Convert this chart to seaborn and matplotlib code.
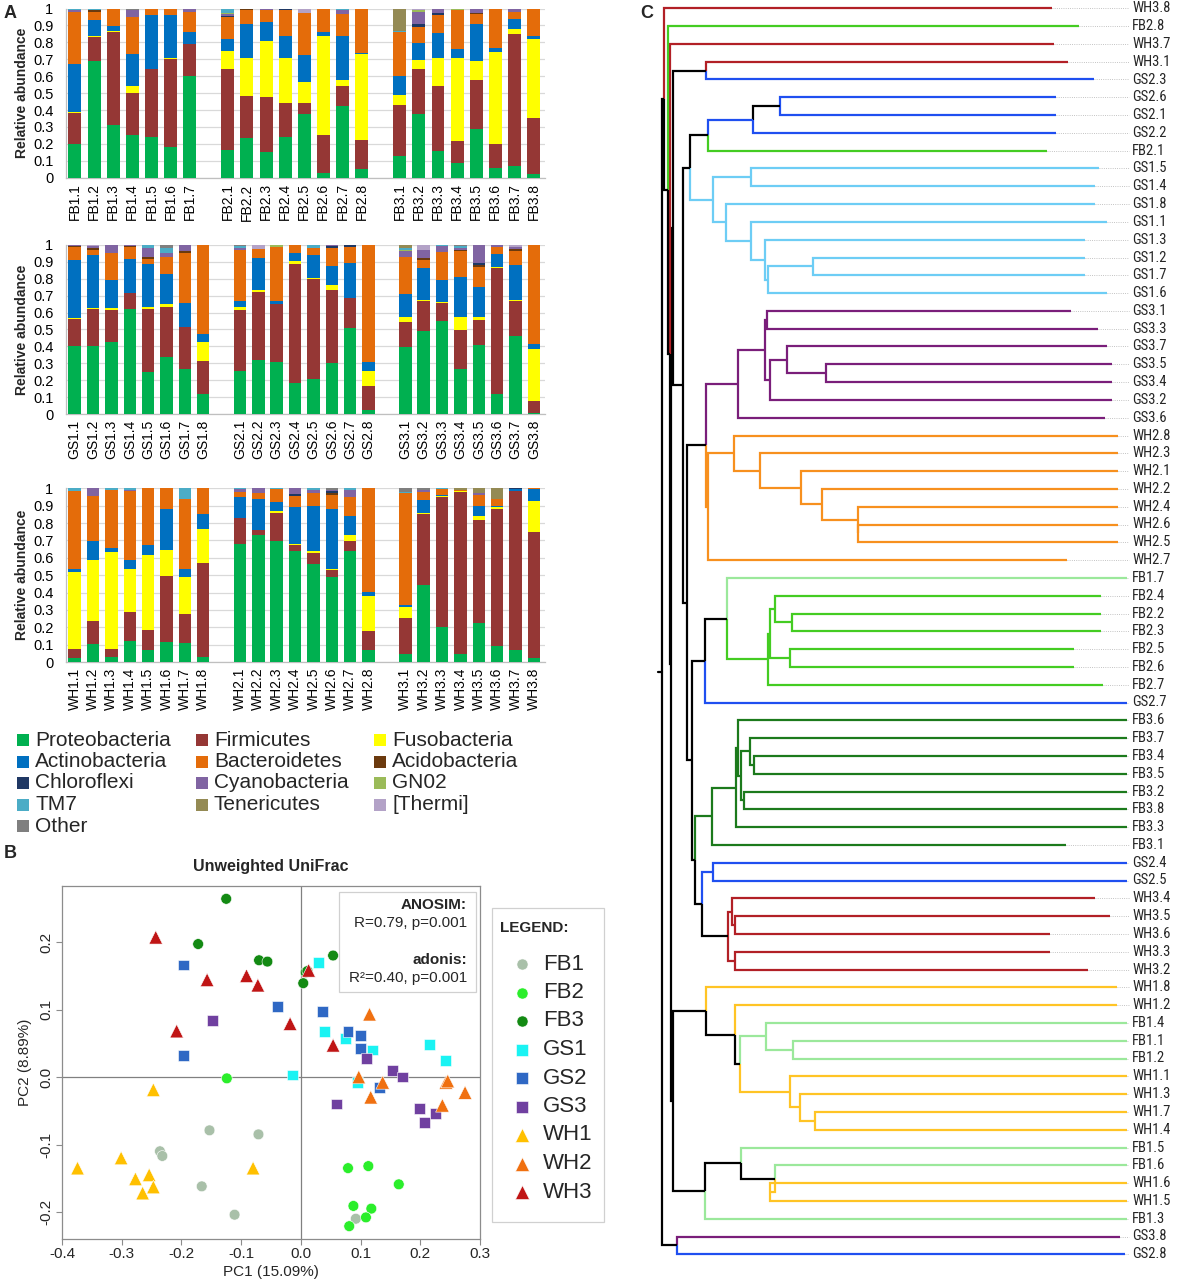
import numpy as np
import pandas as pd
import matplotlib
matplotlib.use("Agg")
import matplotlib.pyplot as plt
import seaborn as sns
from matplotlib.patches import Rectangle
from matplotlib.lines import Line2D
from matplotlib import font_manager

sns.set_theme(style="white")
plt.rcParams['font.family'] = ['Liberation Sans', 'DejaVu Sans']
plt.rcParams['axes.unicode_minus'] = False

# ---------------- Panel A data ----------------
PHYLA = ['Proteobacteria', 'Firmicutes', 'Fusobacteria', 'Actinobacteria', 'Bacteroidetes',
         'Acidobacteria', 'Chloroflexi', 'Cyanobacteria', 'GN02', 'TM7', 'Tenericutes',
         '[Thermi]', 'Other']
PHYLA_COLORS = ['#00B050', '#953735', '#FFFF00', '#0070C0', '#E46C0A', '#6B3A0E', '#1F3864',
                '#8064A2', '#9BBB59', '#4BACC6', '#948A54', '#B3A2C7', '#7F7F7F']

FB1 = [[.20, .18, .01, .28, .31, 0, 0, .01, 0, .01, 0, 0, 0],
       [.69, .14, .01, .09, .05, .01, 0, 0, 0, .01, 0, 0, 0],
       [.31, .55, .005, .03, .105, 0, 0, 0, 0, 0, 0, 0, 0],
       [.25, .25, .04, .19, .22, 0, 0, .04, 0, 0, 0, 0, .01],
       [.24, .40, .005, .315, .04, 0, 0, 0, 0, 0, 0, 0, 0],
       [.18, .52, .01, .25, .04, 0, 0, 0, 0, 0, 0, 0, 0],
       [.60, .19, 0, .07, .12, 0, 0, .02, 0, 0, 0, 0, 0]]
FB2 = [[.165, .475, .11, .07, .13, 0, .005, .01, .01, .02, .005, 0, 0],
       [.236, .248, .226, .20, .08, .01, 0, 0, 0, 0, 0, 0, 0],
       [.154, .324, .332, .11, .07, 0, 0, .01, 0, 0, 0, 0, 0],
       [.24, .20, .265, .135, .15, 0, .01, 0, 0, 0, 0, 0, 0],
       [.378, .062, .123, .163, .25, 0, 0, 0, 0, 0, 0, .024, 0],
       [.03, .224, .586, .024, .132, .004, 0, 0, 0, 0, 0, 0, 0],
       [.425, .118, .034, .26, .13, 0, 0, .023, 0, .01, 0, 0, 0],
       [.05, .17, .51, .005, .265, 0, 0, 0, 0, 0, 0, 0, 0]]
FB3 = [[.13, .297, .063, .114, .258, 0, 0, 0, 0, .005, .133, 0, 0],
       [.378, .266, .049, .102, .095, 0, .02, .07, .01, 0, 0, .01, 0],
       [.157, .383, .165, .153, .105, 0, .01, .027, 0, 0, 0, 0, 0],
       [.089, .129, .492, .048, .232, 0, 0, 0, .005, .005, 0, 0, 0],
       [.29, .287, .113, .22, .056, .01, 0, .024, 0, 0, 0, 0, 0],
       [.06, .137, .543, .024, .236, 0, 0, 0, 0, 0, 0, 0, 0],
       [.07, .78, .03, .055, .045, 0, 0, .02, 0, 0, 0, 0, 0],
       [.02, .33, .47, .02, .16, 0, 0, 0, 0, 0, 0, 0, 0]]
GS1 = [[.405, .155, .005, .345, .074, .01, 0, .006, 0, 0, 0, 0, 0],
       [.40, .22, .005, .315, .03, .01, 0, .015, 0, 0, 0, .005, 0],
       [.428, .187, .013, .162, .16, 0, 0, .05, 0, 0, 0, 0, 0],
       [.623, .09, 0, .204, .067, .011, 0, .005, 0, 0, 0, 0, 0],
       [.25, .37, .012, .256, .029, .01, 0, .055, 0, .018, 0, 0, 0],
       [.336, .294, .02, .18, .10, 0, 0, .02, 0, .03, 0, 0, .02],
       [.267, .246, 0, .141, .296, .01, 0, .04, 0, 0, 0, 0, 0],
       [.12, .195, .113, .045, .527, 0, 0, 0, 0, 0, 0, 0, 0]]
GS2 = [[.255, .36, .02, .035, .298, 0, 0, .012, 0, .01, 0, 0, .01],
       [.322, .398, .015, .188, .051, 0, 0, 0, 0, 0, 0, .026, 0],
       [.306, .342, .003, .019, .314, 0, 0, 0, .016, 0, 0, 0, 0],
       [.183, .705, .016, .046, .046, 0, 0, .004, 0, 0, 0, 0, 0],
       [.21, .587, .008, .135, .04, 0, 0, 0, 0, .02, 0, 0, 0],
       [.304, .426, .034, .11, .106, 0, .01, .01, 0, 0, 0, 0, 0],
       [.51, .176, 0, .206, .096, 0, .012, 0, 0, 0, 0, 0, 0],
       [.025, .14, .092, .049, .694, 0, 0, 0, 0, 0, 0, 0, 0]]
GS3 = [[.397, .147, .028, .138, .22, 0, 0, .03, .01, .01, .02, 0, 0],
       [.49, .178, .005, .187, .05, .01, 0, .05, 0, 0, 0, .03, 0],
       [.552, .102, .01, .126, .167, 0, 0, .033, 0, .01, 0, 0, 0],
       [.267, .23, .079, .234, .15, .01, 0, .01, 0, .01, 0, 0, .01],
       [.41, .146, .016, .18, .118, .01, .01, .11, 0, 0, 0, 0, 0],
       [.12, .743, .003, .079, .039, 0, 0, .016, 0, 0, 0, 0, 0],
       [.464, .204, .005, .205, .087, .01, 0, .01, 0, 0, 0, .015, 0],
       [.008, .072, .303, .034, .583, 0, 0, 0, 0, 0, 0, 0, 0]]
WH1 = [[.025, .052, .443, .017, .45, 0, 0, 0, 0, .013, 0, 0, 0],
       [.105, .133, .352, .107, .259, 0, 0, .044, 0, 0, 0, 0, 0],
       [.027, .05, .558, .02, .335, 0, 0, 0, 0, .01, 0, 0, 0],
       [.12, .166, .248, .053, .40, 0, 0, .005, 0, .008, 0, 0, 0],
       [.07, .116, .428, .058, .328, 0, 0, 0, 0, 0, 0, 0, 0],
       [.115, .38, .15, .238, .117, 0, 0, 0, 0, 0, 0, 0, 0],
       [.109, .167, .211, .05, .40, 0, 0, 0, 0, .063, 0, 0, 0],
       [.029, .539, .198, .088, .146, 0, 0, 0, 0, 0, 0, 0, 0]]
WH2 = [[.68, .15, 0, .118, .032, 0, 0, .015, 0, .005, 0, 0, 0],
       [.731, .029, 0, .177, .034, 0, 0, .029, 0, 0, 0, 0, 0],
       [.699, .161, .01, .05, .074, 0, 0, 0, 0, .006, 0, 0, 0],
       [.639, .033, .005, .217, .062, 0, .01, .034, 0, 0, 0, 0, 0],
       [.564, .064, .01, .262, .071, 0, 0, .02, 0, .009, 0, 0, 0],
       [.488, .042, .005, .345, .083, .01, .01, .01, 0, 0, 0, 0, .007],
       [.637, .058, .036, .112, .105, 0, 0, .045, 0, .007, 0, 0, 0],
       [.069, .111, .202, .023, .595, 0, 0, 0, 0, 0, 0, 0, 0]]
WH3 = [[.046, .209, .064, .009, .643, 0, 0, 0, 0, .01, 0, 0, .019],
       [.443, .411, .005, .074, .044, 0, 0, .015, 0, 0, 0, 0, .008],
       [.20, .752, .005, .005, .033, 0, 0, 0, 0, .005, 0, 0, 0],
       [.048, .929, .008, 0, .005, 0, 0, 0, 0, 0, .01, 0, 0],
       [.223, .597, .02, .058, .065, 0, 0, .01, 0, 0, .027, 0, 0],
       [.094, .787, .01, .005, .044, 0, 0, 0, 0, 0, .06, 0, 0],
       [.067, .92, 0, .008, 0, 0, .005, 0, 0, 0, 0, 0, 0],
       [.021, .728, .178, .067, .006, 0, 0, 0, 0, 0, 0, 0, 0]]

# ---------------- Panel B data ----------------
PCOA_GROUPS = ['FB1', 'FB2', 'FB3', 'GS1', 'GS2', 'GS3', 'WH1', 'WH2', 'WH3']
PCOA_COLORS = ['#A9C0A9', '#2BEE2B', '#138A13', '#1AF3F3', '#2F68C4', '#7040A0',
               '#FFC000', '#F07010', '#C01515']
PCOA_MARKERS = ['o', 'o', 'o', 's', 's', 's', '^', '^', '^']
FB1_PTS = [(-0.236, -0.110), (-0.232, -0.117), (-0.153, -0.079), (-0.071, -0.085),
           (-0.166, -0.162), (-0.111, -0.204), (0.092, -0.210)]
FB2_PTS = [(-0.124, -0.002), (0.079, -0.135), (0.113, -0.132), (0.164, -0.159),
           (0.088, -0.191), (0.118, -0.195), (0.109, -0.208), (0.081, -0.221)]
FB3_PTS = [(-0.125, 0.264), (-0.172, 0.197), (-0.070, 0.173), (-0.056, 0.171),
           (0.008, 0.155), (0.004, 0.139), (0.054, 0.180), (0.011, 0.157)]
GS1_PTS = [(-0.014, 0.003), (0.030, 0.170), (0.039, 0.067), (0.075, 0.057),
           (0.120, 0.040), (0.216, 0.048), (0.242, 0.024), (0.095, -0.008)]
GS2_PTS = [(-0.197, 0.166), (-0.039, 0.105), (-0.197, 0.032), (0.037, 0.097),
           (0.079, 0.067), (0.100, 0.061), (0.100, 0.042), (0.131, -0.015)]
GS3_PTS = [(-0.148, 0.084), (0.110, 0.028), (0.153, 0.010), (0.170, 0.000),
           (0.060, -0.040), (0.198, -0.046), (0.226, -0.054), (0.207, -0.068)]
WH1_PTS = [(-0.247, -0.019), (-0.374, -0.135), (-0.301, -0.120), (-0.277, -0.151),
           (-0.254, -0.145), (-0.247, -0.163), (-0.265, -0.172), (-0.080, -0.135)]
WH2_PTS = [(0.115, 0.093), (0.097, 0.000), (0.137, -0.008), (0.117, -0.030),
           (0.237, -0.042), (0.243, -0.008), (0.246, -0.006), (0.275, -0.023)]
WH3_PTS = [(-0.243, 0.207), (-0.157, 0.144), (-0.091, 0.150), (-0.072, 0.136),
           (-0.208, 0.068), (-0.018, 0.079), (0.013, 0.158), (0.054, 0.047)]

# ---------------- Panel C data ----------------
TREE_COLORS = {'FB1': '#9BE89B', 'FB2': '#44CC22', 'FB3': '#1C7A1C', 'GS1': '#6DCDF5',
               'GS2': '#1F4FF0', 'GS3': '#7A1E7A', 'WH1': '#FFC425', 'WH2': '#F7901E',
               'WH3': '#B22026', 'k': '#000000'}
TIP = {'WH3.8': 390, 'FB2.8': 417, 'WH3.7': 392, 'WH3.1': 406, 'GS2.3': 432, 'GS2.6': 394,
       'GS2.1': 394, 'GS2.2': 394, 'FB2.1': 385, 'GS1.5': 437, 'GS1.4': 433, 'GS1.8': 433,
       'GS1.1': 445, 'GS1.3': 423, 'GS1.2': 423, 'GS1.7': 423, 'GS1.6': 445, 'GS3.1': 409,
       'GS3.3': 436, 'GS3.7': 445, 'GS3.5': 450, 'GS3.4': 450, 'GS3.2': 450, 'GS3.6': 443,
       'WH2.8': 456, 'WH2.3': 456, 'WH2.1': 456, 'WH2.2': 456, 'WH2.4': 456, 'WH2.6': 456,
       'WH2.5': 456, 'WH2.7': 405, 'FB1.7': 466, 'FB2.4': 439, 'FB2.2': 439, 'FB2.3': 439,
       'FB2.5': 412, 'FB2.6': 412, 'FB2.7': 441, 'GS2.7': 466, 'FB3.6': 465, 'FB3.7': 466,
       'FB3.4': 466, 'FB3.5': 466, 'FB3.2': 465, 'FB3.8': 465, 'FB3.3': 466, 'FB3.1': 404,
       'GS2.4': 466, 'GS2.5': 466, 'WH3.4': 433, 'WH3.5': 448, 'WH3.6': 388, 'WH3.3': 388,
       'WH3.2': 426, 'WH1.8': 455, 'WH1.2': 455, 'FB1.4': 466, 'FB1.1': 466, 'FB1.2': 466,
       'WH1.1': 466, 'WH1.3': 466, 'WH1.7': 466, 'WH1.4': 466, 'FB1.5': 466, 'FB1.6': 466,
       'WH1.6': 466, 'WH1.5': 466, 'FB1.3': 466, 'GS3.8': 458, 'GS2.8': 463}
# internal node = [distance, edge colour, children...]
GS2_TOP = [91, 'GS2', [118, 'k', 'GS2.6', 'GS2.1'], 'GS2.2']
GS1_CLADE = [51, 'GS1', [89, 'GS1', 'GS1.5', 'GS1.4'],
             [64, 'GS1', 'GS1.8', [89, 'GS1', 'GS1.1', [103, 'GS1', 'GS1.3',
                                     [106, 'GS1', [151, 'GS1', 'GS1.2', 'GS1.7'], 'GS1.6']]]]]
GS3_CLADE = [76, 'GS3', [103, 'GS3', [105, 'GS3', 'GS3.1', 'GS3.3'],
                         [108, 'GS3', [125, 'GS3', 'GS3.7', [164, 'GS3', 'GS3.5', 'GS3.4']], 'GS3.2']],
             'GS3.6']
WH2_CLADE = [46, 'WH2', [72, 'WH2', 'WH2.8', [98, 'WH2', 'WH2.3', [139, 'WH2', 'WH2.1',
             [160, 'WH2', 'WH2.2', [196, 'WH2', 'WH2.4', [196, 'WH2', 'WH2.6', 'WH2.5']]]]]], 'WH2.7']
FB_BLOCK = [65, 'k', 'FB1.7', [106, 'FB2', [108, 'FB2', [113, 'FB2', 'FB2.4', [130, 'FB2', 'FB2.2', 'FB2.3']],
                                            [128, 'FB2', 'FB2.5', 'FB2.6']], 'FB2.7']]
FB3_CLADE = [50, 'FB3', [74, 'FB3', [76, 'FB3', 'FB3.6', [79, 'FB3', [88, 'FB3', 'FB3.7',
                                                               [92, 'FB3', 'FB3.4', 'FB3.5']],
                                                     [82, 'FB3', 'FB3.2', 'FB3.8']]], 'FB3.3'], 'FB3.1']
WH3_CLADE = [66, 'k', [70, 'WH3', 'WH3.4', [73, 'WH3', 'WH3.5', 'WH3.6']], [73, 'WH3', 'WH3.3', 'WH3.2']]
WH1_UP = [44, 'k', 'WH1.8', [73, 'k', 'WH1.2', [78, 'k', [104, 'FB1', 'FB1.4', [131, 'FB1', 'FB1.1', 'FB1.2']],
                                               [128, 'WH1', 'WH1.1', [138, 'WH1', 'WH1.3',
                                                                     [153, 'WH1', 'WH1.7', 'WH1.4']]]]]]
WH1_LO = [43, 'k', [79, 'k', 'FB1.5', [113, 'k', 'FB1.6', [108, 'WH1', 'WH1.6', 'WH1.5']]], 'FB1.3']
MID = [21, 'k', [28, 'k', [46, 'k', GS2_TOP, 'FB2.1'], GS1_CLADE],
       [25, 'k', [44, 'k', GS3_CLADE, WH2_CLADE],
        [30, 'k', [43, 'k', FB_BLOCK, 'GS2.7'],
         [33, 'k', FB3_CLADE, [40, 'k', [51, 'GS2', 'GS2.4', 'GS2.5'], WH3_CLADE]]]]]
TREE = [0, 'k',
        [2, 'k', 'WH3.8',
         [6, 'k', 'FB2.8',
          [8, 'k', 'WH3.7',
           [9, 'k', [11, 'k', [44, 'k', 'WH3.1', 'GS2.3'], MID],
            [11, 'k', WH1_UP, WH1_LO]]]]],
        [15, 'k', 'GS3.8', 'GS2.8']]

# ---------------- figure ----------------
W, H = 1196, 1283
fig = plt.figure(figsize=(W / 100, H / 100), dpi=100)


def px_axes(l, t, r, b):
    return fig.add_axes([l / W, 1 - b / H, (r - l) / W, (b - t) / H])


def bar_panel(t, b, groups, names):
    ax = px_axes(66, t, 545, b)
    pos, labels, rows = [], [], []
    p = 0
    for gname, data in zip(names, groups):
        for i, row in enumerate(data):
            pos.append(p)
            labels.append(f"{gname}.{i + 1}")
            rows.append(row)
            p += 1
        p += 1
    vals = np.array(rows, dtype=float)
    cum = np.zeros(len(pos))
    for k in range(len(PHYLA)):
        ax.bar(pos, vals[:, k], bottom=cum, width=0.68, color=PHYLA_COLORS[k],
               linewidth=0, zorder=3)
        cum += vals[:, k]
    ax.set_xlim(-0.47, pos[-1] + 0.6)
    ax.set_ylim(0, 1)
    ax.set_xticks(pos)
    ax.set_xticklabels(labels, rotation=90, fontsize=10)
    ticks = np.round(np.arange(0, 1.01, 0.1), 1)
    ax.set_yticks(ticks)
    ax.set_yticklabels(['0' if v == 0 else ('1' if v == 1 else f"{v:.1f}") for v in ticks],
                       fontsize=10.5)
    ax.yaxis.grid(True, color='#D9D9D9', lw=0.9, zorder=0)
    ax.set_axisbelow(True)
    for s in ['top', 'right']:
        ax.spines[s].set_visible(False)
    for s in ['left', 'bottom']:
        ax.spines[s].set_color('#BFBFBF')
        ax.spines[s].set_linewidth(0.9)
    ax.tick_params(axis='both', length=0, colors='#000000')
    ax.tick_params(axis='y', pad=9)
    ax.tick_params(axis='x', pad=4)
    ax.set_ylabel('Relative abundance', fontsize=10, fontweight='bold', labelpad=3)
    return ax


bar_panel(8.5, 177.7, [FB1, FB2, FB3], ['FB1', 'FB2', 'FB3'])
bar_panel(244.7, 414.3, [GS1, GS2, GS3], ['GS1', 'GS2', 'GS3'])
bar_panel(488.3, 662, [WH1, WH2, WH3], ['WH1', 'WH2', 'WH3'])

fig.text(4 / W, 1 - 14 / H, 'A', fontsize=13, fontweight='bold', va='center')
fig.text(4 / W, 1 - 853 / H, 'B', fontsize=13, fontweight='bold', va='center')
fig.text(640 / W, 1 - 13 / H, 'C', fontsize=13, fontweight='bold', va='center')

# phylum legend (row-wise, 3 columns)
col_x = [17, 196, 374]
for i, (name, col) in enumerate(zip(PHYLA, PHYLA_COLORS)):
    r, c = divmod(i, 3)
    y = 740 + r * 21.5
    fig.add_artist(Rectangle((col_x[c] / W, 1 - (y + 6) / H), 12 / W, 12 / H,
                             transform=fig.transFigure, color=col, lw=0))
    fig.text((col_x[c] + 18) / W, 1 - y / H, name, fontsize=15, va='center')

# ---------------- Panel B ----------------
axB = px_axes(62, 886, 480, 1239)
pts = {'FB1': FB1_PTS, 'FB2': FB2_PTS, 'FB3': FB3_PTS, 'GS1': GS1_PTS, 'GS2': GS2_PTS,
       'GS3': GS3_PTS, 'WH1': WH1_PTS, 'WH2': WH2_PTS, 'WH3': WH3_PTS}
recs = []
for g in PCOA_GROUPS:
    for x, y in pts[g]:
        recs.append((g, x, y))
df = pd.DataFrame(recs, columns=['group', 'PC1', 'PC2'])
pal = dict(zip(PCOA_GROUPS, PCOA_COLORS))
mk = dict(zip(PCOA_GROUPS, PCOA_MARKERS))
axB.axhline(0, color='#808080', lw=0.9, zorder=0)
axB.axvline(0, color='#808080', lw=0.9, zorder=0)
for marker, size in [('o', 60), ('s', 62), ('^', 95)]:
    gs = [g for g in PCOA_GROUPS if mk[g] == marker]
    sub = df[df.group.isin(gs)]
    sns.scatterplot(data=sub, x='PC1', y='PC2', hue='group', palette=pal, marker=marker,
                    s=size, edgecolor='white', linewidth=0.4, legend=False, ax=axB, zorder=3)
axB.set_xlim(-0.4, 0.3)
axB.set_ylim(-0.24, 0.283)
axB.set_xticks([-0.4, -0.3, -0.2, -0.1, 0.0, 0.1, 0.2, 0.3])
axB.set_xticklabels(['-0.4', '-0.3', '-0.2', '-0.1', '0.0', '0.1', '0.2', '0.3'], fontsize=11)
axB.set_yticks([-0.2, -0.1, 0.0, 0.1, 0.2])
axB.set_yticklabels(['-0.2', '-0.1', '0.0', '0.1', '0.2'], fontsize=11, rotation=90, va='center')
axB.set_xlabel('')
axB.set_ylabel('')
for s in axB.spines.values():
    s.set_color('#8C8C8C')
    s.set_linewidth(0.9)
axB.tick_params(axis='both', length=4, width=0.8, color='#8C8C8C', direction='out',
                bottom=True, left=True, pad=2)
fig.text(271 / W, 1 - 867 / H, 'Unweighted UniFrac', fontsize=11.5, fontweight='bold',
         ha='center', va='center')
fig.text(271 / W, 1 - 1272 / H, 'PC1 (15.09%)', fontsize=11, ha='center', va='center')
fig.text(25 / W, 1 - 1062 / H, 'PC2 (8.89%)', fontsize=11, ha='center', va='center', rotation=90)

# stats box
axB.add_patch(Rectangle((0.663, 0.700), 0.327, 0.283, transform=axB.transAxes,
                        facecolor='white', edgecolor='#D0D0D0', lw=0.9, zorder=4))
for txt, yy, bold in [('ANOSIM:', 905, True), ('R=0.79, p=0.001', 923, False),
                      ('adonis:', 960, True), ('R²=0.40, p=0.001', 978, False)]:
    axB.text(0.969, 1 - (yy - 886) / 353, txt, transform=axB.transAxes, ha='right',
             va='center', fontsize=11, fontweight='bold' if bold else 'normal', zorder=5)

# group legend
fig.add_artist(Rectangle((492 / W, 1 - 1222 / H), 112 / W, 314 / H, transform=fig.transFigure,
                         facecolor='white', edgecolor='#D0D0D0', lw=0.9))
fig.text(500 / W, 1 - 928 / H, 'LEGEND:', fontsize=11, fontweight='bold', va='center')
msize = {'o': 8, 's': 8, '^': 10}
for i, g in enumerate(PCOA_GROUPS):
    y = 964 + i * 28.5
    fig.add_artist(Line2D([522 / W], [1 - y / H], transform=fig.transFigure, marker=mk[g],
                          markersize=msize[mk[g]], color=pal[g], markeredgecolor='white',
                          markeredgewidth=0.4, linestyle='none'))
    fig.text(543 / W, 1 - y / H, g, fontsize=16, va='center')

# ---------------- Panel C ----------------
axC = px_axes(640, 0, 1196, 1283)
axC.set_axis_off()
axC.set_xlim(-22, 534)
axC.set_ylim((1283 - 8.3) / 17.8, -8.3 / 17.8)
counter = [0]
LABEL_X = 470

# condensed label font if one is available
_names = {f.name for f in font_manager.fontManager.ttflist}
_cands = [n for n in ['Liberation Sans Narrow', 'Roboto Condensed', 'DejaVu Sans Condensed',
                      'Open Sans Condensed'] if n in _names]
_condensed = [f for f in font_manager.fontManager.ttflist
              if f.name == 'DejaVu Sans' and f.stretch == 'condensed']
if _cands:
    LABEL_FONT = dict(family=[_cands[0], 'DejaVu Sans'], fontsize=10.5)
elif _condensed:
    LABEL_FONT = dict(family=['DejaVu Sans'], fontstretch='condensed', fontsize=9.5)
else:
    LABEL_FONT = dict(family=['Liberation Sans', 'DejaVu Sans'], fontsize=9.5)


def edge_color(node):
    if isinstance(node, str):
        return TREE_COLORS[node[:3]]
    return TREE_COLORS[node[1]]


def draw(node):
    if isinstance(node, str):
        y = counter[0]
        counter[0] += 1
        tx = min(TIP[node], LABEL_X - 5)
        axC.plot([tx, LABEL_X - 3], [y, y], color='#B0B0B0', lw=0.6, ls=':')
        axC.text(LABEL_X, y, node, va='center', ha='left', **LABEL_FONT)
        return tx, y
    kids = [(ch, *draw(ch)) for ch in node[2:]]
    px = node[0]
    py = (kids[0][2] + kids[-1][2]) / 2
    for ch, cx, cy in kids:
        axC.plot([px, px, cx], [py, cy, cy], color=edge_color(ch), lw=1.6,
                 solid_joinstyle='miter', solid_capstyle='butt')
    return px, py


rx, ry = draw(TREE)
axC.plot([rx - 4, rx], [ry, ry], color='black', lw=1.6)

fig.savefig('out.png', dpi=100)
